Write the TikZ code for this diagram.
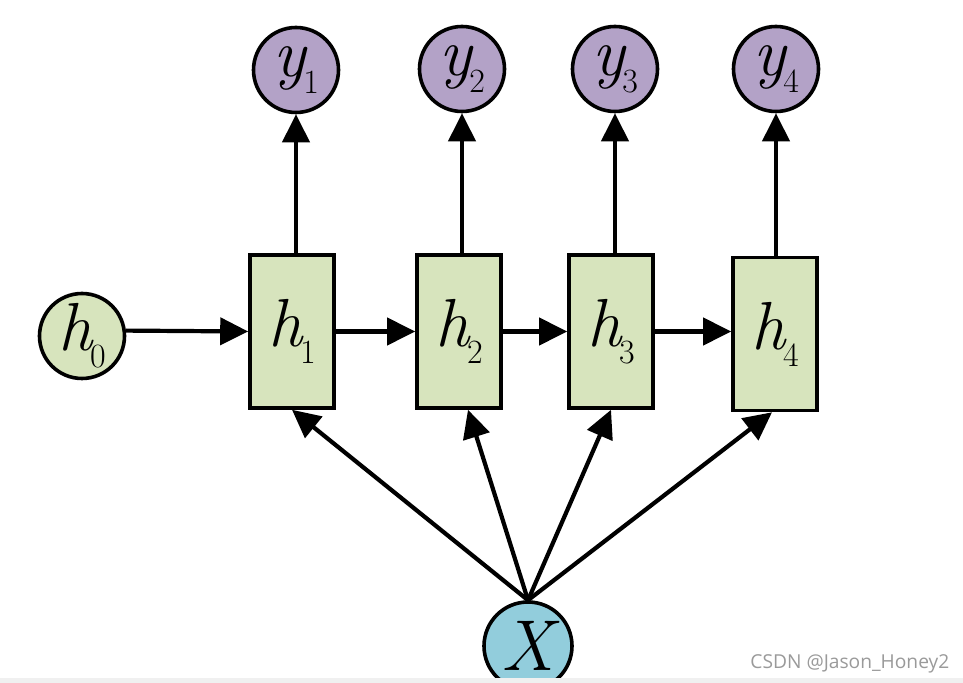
\documentclass[tikz,border=0pt]{standalone}
\usepackage{fontspec}
\newfontfamily\wmfont{Open Sans}
\usetikzlibrary{arrows.meta}
\definecolor{boxgreen}{HTML}{D7E4BD}
\definecolor{ypurple}{HTML}{B3A2C7}
\definecolor{xcyan}{HTML}{92CDDC}
\definecolor{stripgray}{HTML}{F0F0F0}
\definecolor{wmgray}{HTML}{9A9A9A}
\newcommand{\mylbl}[3]{{\rmfamily\fontsize{#3}{#3}\selectfont\itshape #1}\kern-1pt\raisebox{-8.5pt}{\rmfamily\fontsize{17}{17}\selectfont #2}}
\begin{document}
\begin{tikzpicture}[x=0.5pt,y=-0.5pt,
  arr/.style={line width=2.1pt,-{Triangle[length=14pt,width=13.5pt]}},
  hbox/.style={draw,line width=1.8pt,fill=boxgreen,minimum width=42pt,minimum height=76.5pt,inner sep=0pt},
  circ/.style={circle,draw,line width=1.8pt,minimum size=42.5pt,inner sep=0pt}]
\useasboundingbox (0,0) rectangle (963,683);
\clip (0,0) rectangle (963,683);
\fill[white] (0,0) rectangle (963,683);
% hidden states
\node[circ,fill=boxgreen] (h0) at (82,336) {\mylbl{h}{0}{34}};
\node[hbox] (h1) at (292,331.5) {\mylbl{h}{1}{34}};
\node[hbox] (h2) at (459,331.5) {\mylbl{h}{2}{34}};
\node[hbox] (h3) at (611,331.5) {\mylbl{h}{3}{34}};
\node[hbox] (h4) at (775,334) {\mylbl{h}{4}{34}};
% outputs
\node[circ,fill=ypurple] (y1) at (296,70) {\mylbl{y}{1}{34}};
\node[circ,fill=ypurple] (y2) at (462,69) {\mylbl{y}{2}{34}};
\node[circ,fill=ypurple] (y3) at (615,69) {\mylbl{y}{3}{34}};
\node[circ,fill=ypurple] (y4) at (776,69) {\mylbl{y}{4}{34}};
% input
\node[circ,fill=xcyan,minimum size=44pt] (X) at (528,646) {{\rmfamily\fontsize{36}{36}\selectfont\itshape X}};
% horizontal arrows
\draw[arr] (h0.7) -- (h1.west);
\draw[arr] (h1.east) -- (h2.west);
\draw[arr] (h2.east) -- (h3.west);
\draw[arr] (h3.east) -- (h3.east -| h4.west);
% vertical arrows
\draw[arr] (y1 |- h1.north) -- (y1.south);
\draw[arr] (y2 |- h2.north) -- (y2.south);
\draw[arr] (y3 |- h3.north) -- (y3.south);
\draw[arr] (y4 |- h4.north) -- (y4.south);
% input arrows
\draw[arr] (X.north) -- (h1.south);
\draw[arr] (X.north) -- ([xshift=4.5pt]h2.south);
\draw[arr] (X.north) -- (h3.south);
\draw[arr] (X.north) -- ([xshift=-1.5pt]h4.south);
% bottom strip and watermark
\fill[stripgray] (0,678) rectangle (963,683);
\node[anchor=base west,text=wmgray,font=\wmfont\fontsize{9.6}{10}\selectfont,inner sep=0pt] (wm) at (750,668) {CSDN @Jason\_Honey2};
\end{tikzpicture}
\end{document}
